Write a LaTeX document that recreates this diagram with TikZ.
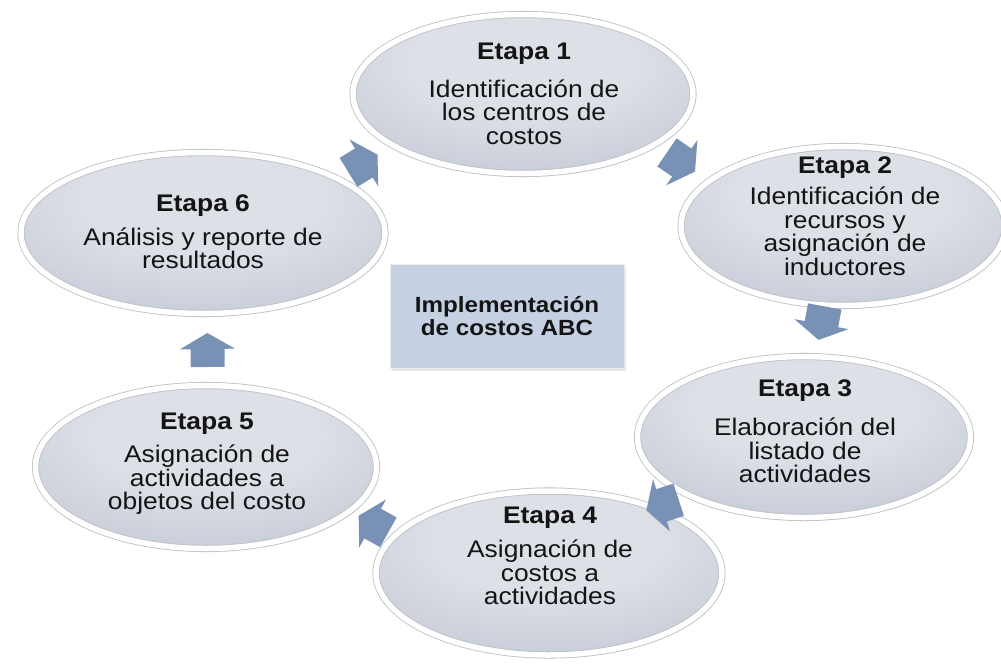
\documentclass[tikz,border=0pt]{standalone}
\usepackage{fontspec}
\setmainfont{Liberation Sans}[FakeStretch=1.1]
\usetikzlibrary{shapes.geometric,shadows,calc}
\definecolor{ein}{RGB}{221,224,231}
\definecolor{eout}{RGB}{180,188,202}
\definecolor{arrowc}{RGB}{121,145,180}
\definecolor{boxc}{RGB}{197,209,227}
\definecolor{txt}{RGB}{20,20,20}
\definecolor{rim}{RGB}{188,190,195}
\pgfdeclareradialshading{ellshade}{\pgfpoint{0bp}{12bp}}{color(0bp)=(ein); color(16bp)=(ein); color(50bp)=(eout); color(100bp)=(eout)}
\pgfdeclarelayer{bg}
\pgfsetlayers{bg,main}
\tikzset{
  stage/.style={ellipse, shading=ellshade, draw=rim, double=white, double distance=5.5pt, line width=0.8pt,
    drop shadow={shadow xshift=2pt, shadow yshift=-3pt, opacity=0.25}},
  stagetext/.style={align=center, text=txt, inner sep=0pt, font=\fontsize{24}{23.5}\selectfont},
  centerbox/.style={rectangle, fill=boxc, draw=white!85!gray, line width=1pt, align=center, text=txt,
    font=\fontsize{22}{23}\selectfont\bfseries, drop shadow={shadow xshift=2pt, shadow yshift=-3pt, opacity=0.2}},
  cycarrow/.pic={\fill[arrowc] (-17,-17) -- (1,-17) -- (1,-27.5) -- (17,0) -- (1,27.5) -- (1,17) -- (-17,17) -- cycle;}
}
\begin{document}
\begin{tikzpicture}[x=1pt,y=-1pt]
\useasboundingbox (0,0) rectangle (1001,667);
% stages
\node[stage, minimum width=340pt, minimum height=159pt] (e1) at (523,94) {};
\node[stage, minimum width=324pt, minimum height=159pt] (e2) at (843,226) {};
\node[stage, minimum width=333pt, minimum height=161pt] (e3) at (804,437) {};
\node[stage, minimum width=346pt, minimum height=164pt] (e4) at (549,573) {};
\node[stage, minimum width=341pt, minimum height=163pt] (e5) at (206,467) {};
\node[stage, minimum width=364pt, minimum height=161pt] (e6) at (203,233) {};
% texts
\node[stagetext] (t1) at (524,94) {\textbf{Etapa 1}\\[14pt]Identificación de\\los centros de\\costos};
\node[stagetext] (t2) at (845,216) {\textbf{Etapa 2}\\[7.5pt]Identificación de\\recursos y\\asignación de\\inductores};
\node[stagetext] (t3) at (805,431) {\textbf{Etapa 3}\\[16pt]Elaboración del\\listado de\\actividades};
\node[stagetext] (t4) at (550,556) {\textbf{Etapa 4}\\[10.5pt]Asignación de\\costos a\\actividades};
\node[stagetext] (t5) at (207,464) {\textbf{Etapa 5}\\[9.5pt]Asignación de\\actividades a\\objetos del costo};
\node[stagetext] (t6) at (203,231.5) {\textbf{Etapa 6}\\[10.5pt]Análisis y reporte de\\resultados};
% centre
\node[centerbox, minimum width=234pt, minimum height=104pt] (c) at (507,316) {Implementación\\de costos ABC};
% arrows
\foreach \u/\v/\w/\dx/\dy/\da in {e6/e1/0.5/0/0/8, e1/e2/0.5/-2/2/-12, e2/e3/0.47/-3/-2/0, e3/e4/0.5/-14/0/-10, e4/e5/0.5/-4/4/-12, e5/e6/0.5/3/0/0}{
  \path let \p1=($(\v)-(\u)$), \n1={atan2(\y1,\x1)+\da} in ($(\u)!\w!(\v)+(\dx,\dy)$) pic[rotate=\n1]{cycarrow};
}
\begin{pgfonlayer}{bg}
\fill[white] (0,0) rectangle (1001,667);
\end{pgfonlayer}
\end{tikzpicture}
\end{document}
